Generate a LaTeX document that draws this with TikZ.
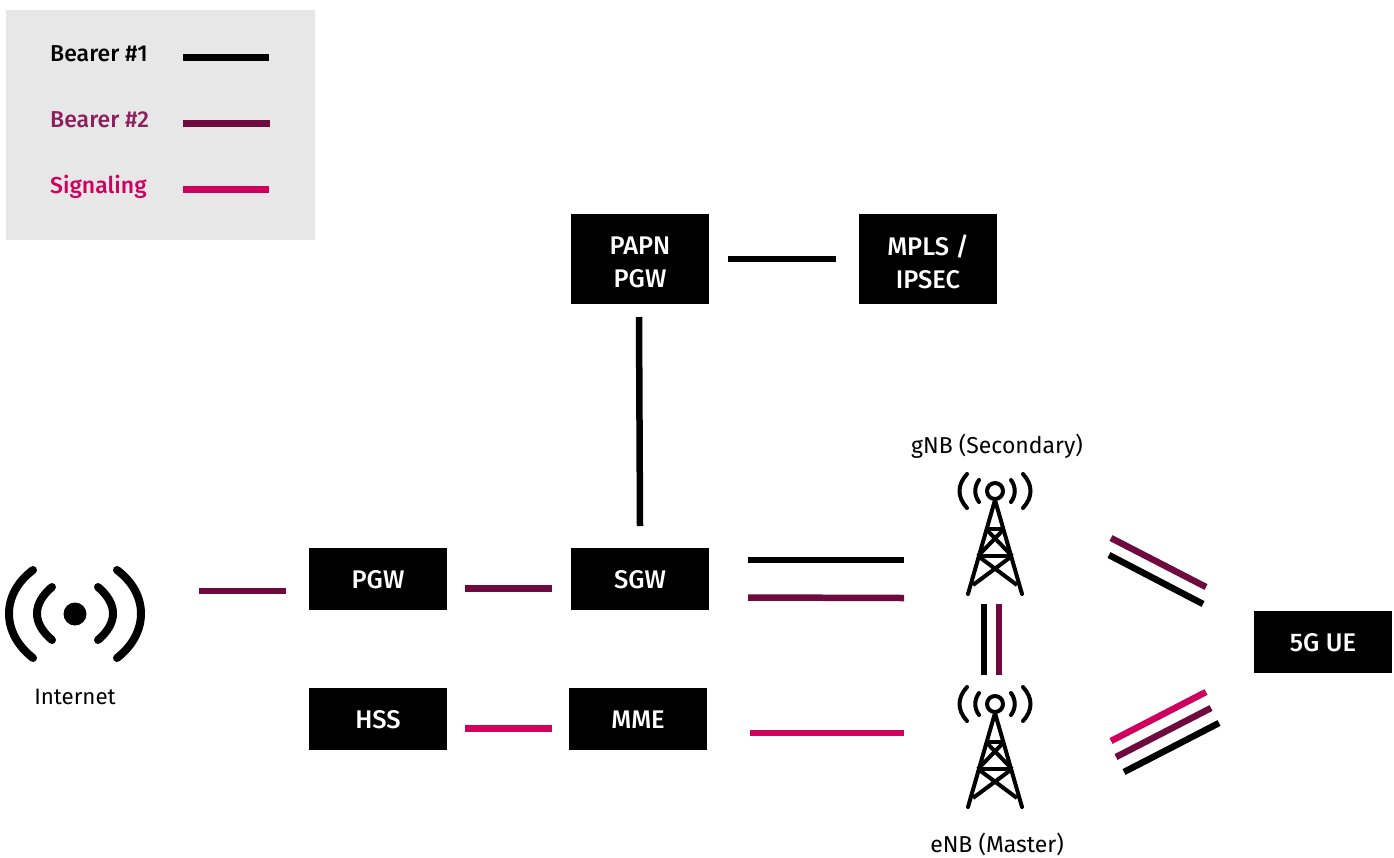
\documentclass[tikz,border=0pt]{standalone}
\usepackage{fontspec}
\setmainfont{Fira Sans}
\newfontfamily\medfont{Fira Sans Medium}
\definecolor{bearerone}{HTML}{000000}
\definecolor{bearertwo}{HTML}{6E0A40}
\definecolor{bearertext}{HTML}{8A1F5C}
\definecolor{signal}{HTML}{D0005F}
\definecolor{legendbg}{HTML}{E7E7E7}
\tikzset{
  box/.style={fill=black,minimum width=138pt,inner sep=0pt},
  boxtext/.style={text=white,inner sep=0pt,align=center,yshift=-0.8pt,font=\medfont\fontsize{25.5}{33}\selectfont},
  boxtwo/.style={boxtext,yshift=-2.5pt},
  lbl/.style={inner sep=0pt,font=\fontsize{23}{26}\selectfont},
  legtext/.style={inner sep=0pt,anchor=base west,font=\medfont\fontsize{23}{26}\selectfont},
  lone/.style={line width=6.5pt,bearerone},
  ltwo/.style={line width=6.5pt,bearertwo},
  lsig/.style={line width=6.5pt,signal},
  icon/.style={line width=4pt,black,line cap=round,line join=round},
  tower/.pic={
    \draw[icon] (0,0) circle (8);
    \draw[icon] (-16,-11) .. controls (-21,-4) and (-21,4) .. (-16,11)
                (16,-11) .. controls (21,-4) and (21,4) .. (16,11)
                (-28,-17) .. controls (-38,-6) and (-38,6) .. (-28,17)
                (28,-17) .. controls (38,-6) and (38,6) .. (28,17);
    \draw[icon] (0,9) -- (-27,103) (0,9) -- (27,103);
    \draw[icon,line cap=butt] (-9,38) -- (9,38) (-17,65) -- (17,65);
    \draw[icon,line cap=butt] (-9,38) -- (17,65) (9,38) -- (-17,65);
    \draw[icon,line cap=butt] (-17,65) -- (22,94) (17,65) -- (-22,94);
  }
}
\begin{document}
\begin{tikzpicture}[x=1pt,y=-1pt]
\useasboundingbox (0,0) rectangle (1394,857);
\fill[legendbg] (6,10) rectangle (315,240);
\node[legtext] (t1) at (50,61) {Bearer \#1};
\node[legtext,text=bearertext] (t2) at (50,127) {Bearer \#2};
\node[legtext,text=signal] (t3) at (50,193) {Signaling};
\coordinate (k1a) at (183,57.5); \coordinate (k1b) at (269,57.5);
\coordinate (k2a) at (183,123.5); \coordinate (k2b) at (270,123.5);
\coordinate (k3a) at (183,189.5); \coordinate (k3b) at (269,189.5);
\draw[lone] (k1a) -- (k1b);
\draw[ltwo] (k2a) -- (k2b);
\draw[lsig] (k3a) -- (k3b);

\node[box,minimum height=90pt,label={[boxtwo]center:{PAPN\\PGW}}] (papn) at (640,259) {};
\node[box,minimum height=90pt,label={[boxtwo]center:{MPLS /\\IPSEC}}] (mpls) at (928,259) {};
\node[box,minimum height=62pt,label={[boxtext]center:PGW}] (pgw) at (378,579) {};
\node[box,minimum height=62pt,label={[boxtext]center:SGW}] (sgw) at (640,579) {};
\node[box,minimum height=62pt,label={[boxtext]center:HSS}] (hss) at (378,719) {};
\node[box,minimum height=62pt,label={[boxtext]center:MME}] (mme) at (638,719) {};
\node[box,minimum height=62pt,label={[boxtext]center:5G UE}] (ue) at (1323,642) {};

\node[lbl,font=\fontsize{22.3}{26}\selectfont] (inetl) at (75,697) {Internet};
\node[lbl] (gnbl) at (997,446) {gNB (Secondary)};
\node[lbl] (enbl) at (997,844) {eNB (Master)};

% internet icon
\fill (75,614) circle (11.5);
\draw[line width=8pt,line cap=round] (52,587) .. controls (32,604) and (32,623) .. (52,640)
  (98,587) .. controls (118,604) and (118,623) .. (98,640)
  (33,570) .. controls (1,594) and (1,633) .. (33,658)
  (117,570) .. controls (149,594) and (149,633) .. (117,658);

\pic at (995,491) {tower};
\pic at (995,704) {tower};

% connectors
\coordinate (a1) at (728,259); \coordinate (a2) at (836,259);
\draw[lone] (a1) -- (a2);
\coordinate (b1) at (639,317); \coordinate (b2) at (640,526);
\draw[lone] (b1) -- (b2);
\coordinate (c1) at (199,591); \coordinate (c2) at (286,591);
\draw[ltwo] (c1) -- (c2);
\coordinate (d1) at (465,588.5); \coordinate (d2) at (552,588.5);
\draw[ltwo] (d1) -- (d2);
\coordinate (e1) at (748,560); \coordinate (e2) at (904,560);
\draw[lone] (e1) -- (e2);
\coordinate (f1) at (748,597.5); \coordinate (f2) at (904,598);
\draw[ltwo] (f1) -- (f2);
\coordinate (g1) at (465,728.5); \coordinate (g2) at (552,728.5);
\draw[lsig] (g1) -- (g2);
\coordinate (h1) at (750,733); \coordinate (h2) at (904,733);
\draw[lsig] (h1) -- (h2);
\coordinate (i1) at (984,604); \coordinate (i2) at (984,675);
\draw[lone] (i1) -- (i2);
\coordinate (j1) at (999,604); \coordinate (j2) at (999,675);
\draw[ltwo] (j1) -- (j2);
\coordinate (l1) at (1111,538); \coordinate (l2) at (1206,587);
\draw[ltwo] (l1) -- (l2);
\coordinate (m1) at (1109,555); \coordinate (m2) at (1203,604);
\draw[lone] (m1) -- (m2);
\coordinate (n1) at (1111,741); \coordinate (n2) at (1206,692);
\draw[lsig] (n1) -- (n2);
\coordinate (o1) at (1116,757); \coordinate (o2) at (1211,708);
\draw[ltwo] (o1) -- (o2);
\coordinate (p1) at (1124,772); \coordinate (p2) at (1219,723);
\draw[lone] (p1) -- (p2);
\end{tikzpicture}
\end{document}
